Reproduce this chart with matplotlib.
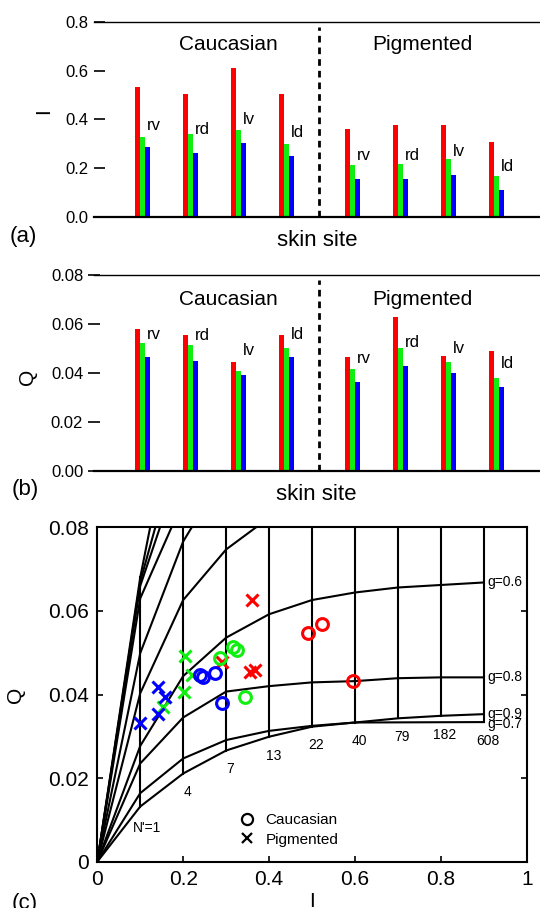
import numpy as np
import matplotlib
matplotlib.use('Agg')
import matplotlib.pyplot as plt
from matplotlib.lines import Line2D

plt.rcParams['font.family'] = ['Liberation Sans', 'DejaVu Sans']

# ---------------- data ----------------
sites = ['rv', 'rd', 'lv', 'ld', 'rv', 'rd', 'lv', 'ld']
groups = ['Caucasian', 'Pigmented']

# panel (a): I for red / green / blue (Caucasian rv rd lv ld, Pigmented rv rd lv ld)
I_red = [0.534, 0.504, 0.609, 0.505, 0.360, 0.375, 0.377, 0.307]
I_green = [0.329, 0.339, 0.356, 0.299, 0.212, 0.217, 0.236, 0.167]
I_blue = [0.288, 0.261, 0.302, 0.250, 0.154, 0.154, 0.171, 0.111]

# panel (b): Q
Q_red = [0.0578, 0.0554, 0.0444, 0.0554, 0.0464, 0.0630, 0.0471, 0.0491]
Q_green = [0.0524, 0.0516, 0.0407, 0.0502, 0.0416, 0.0502, 0.0446, 0.0381]
Q_blue = [0.0464, 0.0448, 0.0393, 0.0464, 0.0363, 0.0427, 0.0400, 0.0341]

# panel (c): measured points
cau_red_I = [0.491, 0.523, 0.595]
cau_red_Q = [0.0546, 0.0568, 0.0432]
cau_green_I = [0.286, 0.317, 0.325, 0.344]
cau_green_Q = [0.0487, 0.0514, 0.0506, 0.0395]
cau_blue_I = [0.239, 0.247, 0.274, 0.291]
cau_blue_Q = [0.0447, 0.0443, 0.0452, 0.0380]
pig_red_I = [0.360, 0.356, 0.367, 0.290]
pig_red_Q = [0.0626, 0.0455, 0.0459, 0.0478]
pig_green_I = [0.204, 0.203, 0.154, 0.220]
pig_green_Q = [0.0492, 0.0407, 0.0371, 0.0447]
pig_blue_I = [0.099, 0.142, 0.158, 0.142]
pig_blue_Q = [0.0331, 0.0419, 0.0395, 0.0353]

# panel (c): lookup grid, Q at each N' column (I = 0 .. 0.9)
grid_I = [0.0, 0.1, 0.2, 0.3, 0.4, 0.5, 0.6, 0.7, 0.8, 0.9]
nan = np.nan
grid_g07 = [0, 0.0132, 0.0211, 0.0266, 0.0299, 0.0323, 0.0333, nan, nan, 0.0334]
grid_g09 = [0, 0.0164, 0.0247, 0.0291, 0.0313, 0.0325, 0.0333, 0.0343, 0.0349, 0.0353]
grid_g08 = [0, 0.0235, 0.0345, 0.0407, 0.0420, 0.0429, 0.0432, 0.0439, 0.0441, 0.0441]
grid_g06 = [0, 0.0277, 0.0444, 0.0536, 0.0592, 0.0626, 0.0644, 0.0656, 0.0662, 0.0668]
grid_g05 = [0, 0.0403, 0.0626, 0.0747, 0.0823, 0.088, 0.093, 0.097, 0.100, 0.102]
grid_g04 = [0, 0.0499, 0.0766, 0.0936, 0.105, 0.112, 0.117, 0.120, 0.122, 0.124]
grid_g03 = [0, 0.063, 0.0863, 0.105, 0.118, 0.127, 0.133, 0.137, 0.140, 0.142]
grid_g02 = [0, 0.066, 0.0964, 0.118, 0.132, 0.142, 0.149, 0.154, 0.157, 0.160]
grid_g01 = [0, 0.067, 0.104, 0.128, 0.144, 0.155, 0.163, 0.168, 0.172, 0.175]
grid_g00 = [0, 0.068, 0.120, 0.150, 0.170, 0.183, 0.192, 0.198, 0.203, 0.206]
Nprime_labels = ["N'=1", '4', '7', '13', '22', '40', '79', '182', '608']
g_labels = ['g=0.6', 'g=0.8', 'g=0.9', 'g=0.7']

# ---------------- figure ----------------
W, H = 540, 908
fig = plt.figure(figsize=(W / 100, H / 100), dpi=100)

RED, GREEN, BLUE = '#ff0000', '#11ee11', '#0000ff'
xpos = np.array([1, 2, 3, 4, 5.38, 6.38, 7.38, 8.38])
bw = 0.104
xmax = (W - 94.3) / 48.0
divider = 4.69


def bar_panel(rect, red, green, blue, ymax, yticks, yticklabels, ylabel,
              label_y, group_y, tickdir, ylab_x, ylab_y):
    ax = fig.add_axes(rect)
    ax.bar(xpos - bw, red, bw, color=RED, linewidth=0)
    ax.bar(xpos, green, bw, color=GREEN, linewidth=0)
    ax.bar(xpos + bw, blue, bw, color=BLUE, linewidth=0)
    ax.set_xlim(0, xmax)
    ax.set_ylim(0, ymax)
    ax.axvline(divider, ymin=0, ymax=0.974, color='black', lw=2,
               linestyle=(0, (2.4, 1.8)))
    for s in ['left', 'right']:
        ax.spines[s].set_visible(False)
    ax.spines['bottom'].set_linewidth(1.6)
    ax.spines['top'].set_linewidth(1.0)
    ax.set_xticks([])
    ax.set_yticks(yticks)
    ax.set_yticklabels(yticklabels, fontsize=12)
    ax.tick_params(axis='y', direction=tickdir, length=8, width=1.2, pad=4)
    ax.set_ylabel(ylabel, fontsize=15)
    ax.yaxis.set_label_coords(ylab_x, ylab_y)
    for x, s, ly in zip(xpos, sites, label_y):
        ax.text(x + 0.09, ly, s, fontsize=12, ha='left', va='bottom')
    ax.text(2.8, group_y, groups[0], fontsize=15, ha='center', va='center')
    ax.text(6.84, group_y, groups[1], fontsize=15, ha='center', va='center')
    return ax


# panel (a)
axa = bar_panel([94.3 / W, 1 - 217 / H, 1 - 94.3 / W, 195.3 / H],
                I_red, I_green, I_blue, 0.8,
                [0, 0.2, 0.4, 0.6, 0.8], ['0.0', '0.2', '0.4', '0.6', '0.8'], 'I',
                [0.345, 0.326, 0.370, 0.315, 0.220, 0.220, 0.236, 0.175],
                0.705, 'in', -0.093, 0.54)
fig.text(23 / W, 1 - 236.5 / H, '(a)', fontsize=16, ha='center', va='center')
fig.text(317 / W, 1 - 240 / H, 'skin site', fontsize=16, ha='center', va='center')

# panel (b)
axb = bar_panel([94.3 / W, 1 - 471 / H, 1 - 94.3 / W, 196 / H],
                Q_red, Q_green, Q_blue, 0.08,
                [0, 0.02, 0.04, 0.06, 0.08], ['0.00', '0.02', '0.04', '0.06', '0.08'], 'Q',
                [0.0528, 0.0524, 0.0460, 0.0528, 0.0429, 0.0494, 0.0469, 0.0410],
                0.0698, 'inout', -0.129, 0.48)
fig.text(25 / W, 1 - 490 / H, '(b)', fontsize=16, ha='center', va='center')
fig.text(316 / W, 1 - 495 / H, 'skin site', fontsize=16, ha='center', va='center')

# panel (c)
axc = fig.add_axes([97.3 / W, 1 - 861.7 / H, 429.4 / W, 334.4 / H])
curves = [grid_g07, grid_g09, grid_g08, grid_g06, grid_g05, grid_g04,
          grid_g03, grid_g02, grid_g01, grid_g00]
gI = np.array(grid_I)
table = np.array(curves, dtype=float)
for row in table:
    m = ~np.isnan(row)
    axc.plot(gI[m], row[m], color='black', lw=1.5, zorder=2, clip_on=True)
for j in range(1, len(grid_I)):
    col = table[:, j]
    col = col[~np.isnan(col)]
    axc.plot([gI[j], gI[j]], [col.min(), col.max()], color='black', lw=1.5,
             zorder=2)

# N' labels under each column
for j, lab in enumerate(Nprime_labels, start=1):
    col = table[:, j]
    low = np.nanmin(col)
    axc.text(gI[j] + 0.01 if j > 1 else gI[j] + 0.015, low - 0.0045 if j > 1 else low - 0.0052,
             lab, fontsize=10, ha='center', va='center')

# g labels at right end
for row, lab, dy in zip([grid_g06, grid_g08, grid_g09, grid_g07], g_labels,
                        [0, 0, 0.0001, -0.0004]):
    axc.text(0.908, row[-1] + dy, lab, fontsize=10, ha='left', va='center')

mk = dict(linestyle='none', markersize=8.5, markeredgewidth=2.2, zorder=4)
axc.plot(pig_red_I, pig_red_Q, marker='x', color=RED, **mk)
axc.plot(cau_red_I, cau_red_Q, marker='o', mfc='none', mec=RED, **mk)
axc.plot(pig_green_I, pig_green_Q, marker='x', color=GREEN, **mk)
axc.plot(cau_green_I, cau_green_Q, marker='o', mfc='none', mec=GREEN, **mk)
axc.plot(pig_blue_I, pig_blue_Q, marker='x', color=BLUE, **mk)
axc.plot(cau_blue_I, cau_blue_Q, marker='o', mfc='none', mec=BLUE, **mk)

handles = [Line2D([], [], marker='o', mfc='none', mec='black', linestyle='none',
                  markersize=8, markeredgewidth=1.6),
           Line2D([], [], marker='x', color='black', linestyle='none',
                  markersize=7, markeredgewidth=1.6)]
axc.legend(handles, groups, loc='center left', bbox_to_anchor=(0.31, 0.095),
           frameon=False, fontsize=11, handletextpad=0.6, labelspacing=0.35,
           borderpad=0.0, handlelength=1.2)

axc.set_xlim(0, 1)
axc.set_ylim(0, 0.08)
axc.set_xticks([0, 0.2, 0.4, 0.6, 0.8, 1.0])
axc.set_xticklabels(['0', '0.2', '0.4', '0.6', '0.8', '1'], fontsize=15)
axc.set_yticks([0, 0.02, 0.04, 0.06, 0.08])
axc.set_yticklabels(['0', '0.02', '0.04', '0.06', '0.08'], fontsize=15)
axc.tick_params(direction='in', length=4, width=1.2, top=True, right=True, pad=6)
for s in axc.spines.values():
    s.set_linewidth(1.5)
axc.set_xlabel('I', fontsize=15)
axc.xaxis.set_label_coords(0.5, -0.09)
axc.set_ylabel('Q', fontsize=15)
axc.yaxis.set_label_coords(-0.168, 0.5)
fig.text(25 / W, 1 - 904 / H, '(c)', fontsize=16, ha='center', va='center')

fig.savefig('out.png', dpi=100)
